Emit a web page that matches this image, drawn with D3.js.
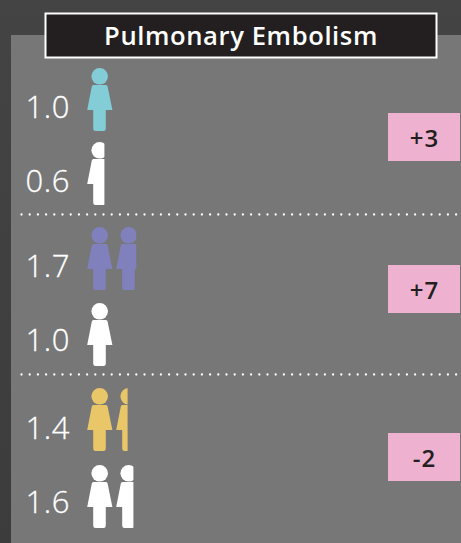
<!DOCTYPE html>
<html><head><meta charset="utf-8">
<script src="https://cdn.jsdelivr.net/npm/d3@7"></script>
<style>html,body{margin:0;padding:0;background:#3c3c3c}svg{display:block}text{font-family:"Open Sans",sans-serif}</style>
</head><body><script>
const title = "Pulmonary Embolism";
const values = [1.0, 0.6, 1.7, 1.0, 1.4, 1.6];
const labels = ["1.0", "0.6", "1.7", "1.0", "1.4", "1.6"];
const colors = ["#82cdd6", "#ffffff", "#8080bd", "#ffffff", "#e9c667", "#ffffff"];
const diffs = ["+3", "+7", "-2"];
const rowNames = d3.range(values.length);

const W = 461, H = 543;
const svg = d3.select("body").append("svg").attr("width", W).attr("height", H);
const defs = svg.append("defs");
const g = defs.append("linearGradient").attr("id", "bg").attr("x1", 0).attr("y1", 0).attr("x2", 0).attr("y2", 1);
g.append("stop").attr("offset", 0).attr("stop-color", "#444");
g.append("stop").attr("offset", 1).attr("stop-color", "#3c3c3c");
svg.append("rect").attr("width", W).attr("height", H).attr("fill", "url(#bg)");
svg.append("rect").attr("x", 11).attr("y", 35).attr("width", W - 11).attr("height", H - 35).attr("fill", "#777777");

// scales
const xUnit = d3.scaleLinear().domain([0, 1]).range([87, 116]);
const yHeadTop = d3.scaleOrdinal().domain(rowNames).range([68, 142, 227, 303, 388, 465]);
const yBase = d3.scaleOrdinal().domain(rowNames).range([118, 192, 277, 351, 439, 513]);
const yDiff = d3.scaleOrdinal().domain(d3.range(diffs.length)).range([113, 265, 433]);

// separators
[214.5, 374.5].forEach(y => svg.append("line").attr("x1", 21.5).attr("x2", W).attr("y1", y).attr("y2", y)
  .attr("stroke", "#fff").attr("stroke-width", 2.3).attr("stroke-linecap", "round").attr("stroke-dasharray", "0 8.2"));

// title
svg.append("rect").attr("x", 45.5).attr("y", 13.5).attr("width", 391).attr("height", 44)
  .attr("fill", "#231f20").attr("stroke", "#fff").attr("stroke-width", 2);
svg.append("text").attr("x", 241).attr("y", 45).attr("text-anchor", "middle")
  .attr("font-size", 25.6).attr("letter-spacing", 0.6).attr("font-weight", 600).attr("fill", "#fff").text(title);

// person glyph, relative to head top at (0,0), left at 0
const body = "M6.5 17 Q5 17 4.8 18.5 L0.2 42 H6.2 V60.5 Q6.2 63 8.5 63 H16.5 Q18.8 63 18.8 60.5 V42 H25.4 L20.6 18.5 Q20.3 17 19 17 Z";
function person(sel) {
  sel.append("circle").attr("cx", 12.7).attr("cy", 8.3).attr("r", 8.3);
  sel.append("path").attr("d", body);
}

values.forEach((v, i) => {
  defs.append("clipPath").attr("id", "c" + i).append("rect")
    .attr("x", xUnit(0)).attr("y", yHeadTop(i) - 2).attr("width", xUnit(v) - xUnit(0)).attr("height", 70);
  const row = svg.append("g").attr("clip-path", `url(#c${i})`).attr("fill", colors[i]);
  d3.range(Math.ceil(v)).forEach(k => {
    row.append("g").attr("transform", `translate(${xUnit(k)},${yHeadTop(i)})`).call(person);
  });
  svg.append("text").attr("x", 70).attr("y", yBase(i)).attr("text-anchor", "end")
    .attr("font-size", 31).attr("letter-spacing", 0.6).attr("font-weight", 300).attr("fill", "#fff").attr("stroke", "#fff").attr("stroke-width", 0.3).text(labels[i]);
});

diffs.forEach((d, i) => {
  svg.append("rect").attr("x", 388).attr("y", yDiff(i)).attr("width", 72).attr("height", 48).attr("fill", "#efb1d0");
  svg.append("text").attr("x", 424.5).attr("y", yDiff(i) + 34).attr("text-anchor", "middle")
    .attr("font-size", 24).attr("letter-spacing", 1).attr("font-weight", 600).attr("fill", "#231f20").text(d);
});
</script></body></html>
